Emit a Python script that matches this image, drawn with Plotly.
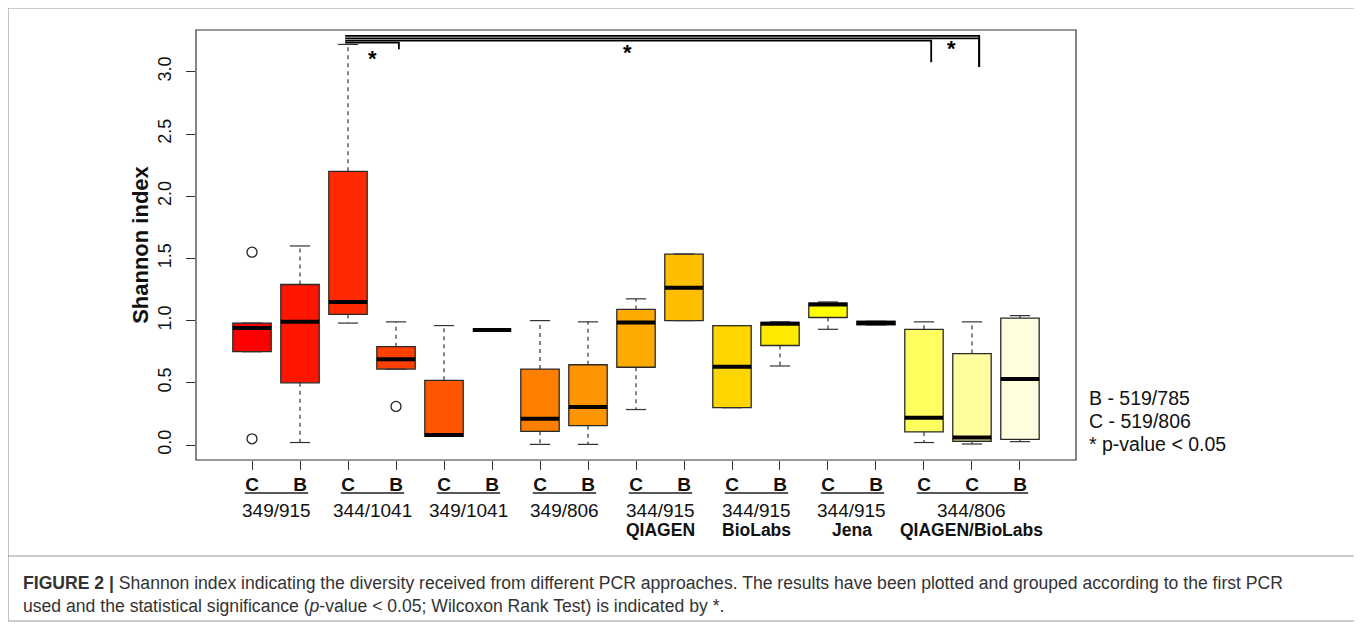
import plotly.graph_objects as go

# ---------------- data ----------------
box_labels = ["C", "B", "C", "B", "C", "B", "C", "B", "C", "B", "C", "B", "C", "B", "C", "C", "B"]
positions = list(range(1, 18))
lower_whisker = [0.75, 0.02, 0.98, 0.61, 0.07, 0.925, 0.005, 0.005, 0.285, 1.00, 0.30, 0.635, 0.93, 0.965, 0.02, 0.008, 0.027]
q1 = [0.75, 0.50, 1.05, 0.61, 0.07, 0.925, 0.11, 0.155, 0.625, 1.00, 0.30, 0.80, 1.025, 0.965, 0.105, 0.03, 0.045]
median = [0.94, 0.99, 1.15, 0.69, 0.08, 0.925, 0.21, 0.305, 0.985, 1.265, 0.63, 0.975, 1.13, 0.98, 0.22, 0.06, 0.53]
q3 = [0.98, 1.29, 2.20, 0.79, 0.52, 0.925, 0.61, 0.645, 1.09, 1.535, 0.96, 0.985, 1.14, 0.995, 0.93, 0.735, 1.02]
upper_whisker = [0.98, 1.60, 3.22, 0.99, 0.96, 0.925, 1.00, 0.99, 1.175, 1.535, 0.96, 0.99, 1.15, 0.995, 0.99, 0.99, 1.04]
outlier_x = [1, 1, 4]
outlier_y = [1.55, 0.05, 0.31]
box_colors = ["#FF0000", "#FF1500", "#FF2A00", "#FF4000", "#FF5500", "#FF6A00", "#FF8000",
              "#FF9500", "#FFAA00", "#FFBF00", "#FFD500", "#FFEA00", "#FFFF00", "#FFFF20",
              "#FFFF60", "#FFFF9F", "#FFFFDF"]

group_names = ["349/915", "344/1041", "349/1041", "349/806", "344/915", "344/915", "344/915", "344/806"]
group_sub = ["", "", "", "", "QIAGEN", "BioLabs", "Jena", "QIAGEN/BioLabs"]
group_first = [1, 3, 5, 7, 9, 11, 13, 15]
group_last = [2, 4, 6, 8, 10, 12, 14, 17]

# significance brackets (Wilcoxon, p < 0.05)
sig_x0 = [2.94, 2.94, 2.94, 2.94]
sig_x1 = [4.06, 15.15, 16.15, 16.15]
sig_y = [3.234, 3.250, 3.269, 3.288]
sig_drop = [3.181, 3.076, 3.039, 3.039]
star_x = [3.52, 8.83, 15.58]
star_y = [3.153, 3.20, 3.236]

legend_lines = ["B - 519/785", "C - 519/806", "* p-value &lt; 0.05"]
y_ticks = [0.0, 0.5, 1.0, 1.5, 2.0, 2.5, 3.0]

caption_1 = ("<b>FIGURE 2 |</b> Shannon index indicating the diversity received from different PCR "
             "approaches. The results have been plotted and grouped according to the first PCR")
caption_2 = ("used and the statistical significance (<i>p</i>-value &lt; 0.05; Wilcoxon Rank Test) "
             "is indicated by *.")

# ---------------- geometry ----------------
W, H = 1362, 625
OFF = 8  # default page body margin
PL, PT, PR, PB = 196, 30, 1076, 460  # plot frame in page pixels
FONT = "Liberation Sans, Arial, Helvetica, sans-serif"
BOX_W = 0.8
CAP_HW = 0.21


def px_x(px):
    return (px - PL) / (PR - PL)


def px_y(py):
    return (PB - py) / (PB - PT)


fig = go.Figure()

# boxes
for i, pos in enumerate(positions):
    fig.add_trace(go.Box(
        x=[pos], q1=[q1[i]], median=[median[i]], q3=[q3[i]],
        lowerfence=[q1[i]], upperfence=[q3[i]],
        width=BOX_W, fillcolor=box_colors[i],
        line=dict(color="#2a2a2a", width=1.3),
        boxpoints=False, showlegend=False, hoverinfo="skip",
    ))

# dashed whiskers and solid staples
wx, wy = [], []
cx, cy = [], []
for i, pos in enumerate(positions):
    if upper_whisker[i] > q3[i]:
        wx += [pos, pos, None]
        wy += [q3[i], upper_whisker[i], None]
    if lower_whisker[i] < q1[i]:
        wx += [pos, pos, None]
        wy += [q1[i], lower_whisker[i], None]
    cx += [pos - CAP_HW, pos + CAP_HW, None, pos - CAP_HW, pos + CAP_HW, None]
    cy += [upper_whisker[i], upper_whisker[i], None, lower_whisker[i], lower_whisker[i], None]

fig.add_trace(go.Scatter(x=wx, y=wy, mode="lines",
                         line=dict(color="#333333", width=1.2, dash="4px,4px"),
                         showlegend=False, hoverinfo="skip"))
fig.add_trace(go.Scatter(x=cx, y=cy, mode="lines",
                         line=dict(color="#333333", width=1.2),
                         showlegend=False, hoverinfo="skip"))

# medians
mx, my = [], []
for i, pos in enumerate(positions):
    mx += [pos - BOX_W / 2, pos + BOX_W / 2, None]
    my += [median[i], median[i], None]
fig.add_trace(go.Scatter(x=mx, y=my, mode="lines",
                         line=dict(color="#000000", width=4),
                         showlegend=False, hoverinfo="skip"))

# outliers
fig.add_trace(go.Scatter(x=outlier_x, y=outlier_y, mode="markers",
                         marker=dict(symbol="circle-open", size=10, color="#222222",
                                     line=dict(width=1.3, color="#222222")),
                         showlegend=False, hoverinfo="skip"))

# significance brackets
for j in range(len(sig_x0)):
    fig.add_trace(go.Scatter(x=[sig_x0[j], sig_x1[j], sig_x1[j]],
                             y=[sig_y[j], sig_y[j], sig_drop[j]],
                             mode="lines", line=dict(color="#000000", width=1.8),
                             showlegend=False, hoverinfo="skip"))

annotations = []
for k in range(len(star_x)):
    annotations.append(dict(x=star_x[k], y=star_y[k], xref="x", yref="y", text="<b>*</b>",
                            showarrow=False, font=dict(family=FONT, size=22, color="#000000"),
                            yshift=-6))

shapes = []
# plot frame
shapes.append(dict(type="rect", xref="paper", yref="paper", x0=0, x1=1, y0=0, y1=1,
                   line=dict(color="#333333", width=1.2), layer="above"))

# group separators and labels
for g in range(len(group_names)):
    a, b = group_first[g], group_last[g]
    shapes.append(dict(type="line", xref="x", yref="paper", x0=a - 0.15, x1=b + 0.17,
                       y0=px_y(493), y1=px_y(493), line=dict(color="#222222", width=1.5)))
    annotations.append(dict(x=(a + b) / 2, y=px_y(510), xref="x", yref="paper",
                            text=group_names[g], showarrow=False, yanchor="middle",
                            font=dict(family=FONT, size=19, color="#111111")))
    if group_sub[g]:
        annotations.append(dict(x=(a + b) / 2, y=px_y(530), xref="x", yref="paper",
                                text="<b>" + group_sub[g] + "</b>", showarrow=False, yanchor="middle",
                                font=dict(family=FONT, size=17.5, color="#111111")))

# legend text at right
for k, (txt, yy) in enumerate(zip(legend_lines, [398, 421, 444])):
    annotations.append(dict(x=px_x(1087), y=px_y(yy), xref="paper", yref="paper", text=txt,
                            showarrow=False, xanchor="left", yanchor="middle",
                            font=dict(family=FONT, size=19.5, color="#111111")))

# caption
annotations.append(dict(x=px_x(21), y=px_y(583), xref="paper", yref="paper", text=caption_1,
                        showarrow=False, xanchor="left", yanchor="middle",
                        font=dict(family=FONT, size=17.6, color="#333333")))
annotations.append(dict(x=px_x(21), y=px_y(606), xref="paper", yref="paper", text=caption_2,
                        showarrow=False, xanchor="left", yanchor="middle",
                        font=dict(family=FONT, size=17.6, color="#333333")))

# outer figure box and separator
shapes.append(dict(type="rect", xref="paper", yref="paper", x0=px_x(8), x1=px_x(1355),
                   y0=px_y(621), y1=px_y(8), line=dict(color="#9a9a9a", width=1.2)))
shapes.append(dict(type="line", xref="paper", yref="paper", x0=px_x(8), x1=px_x(1355),
                   y0=px_y(556), y1=px_y(556), line=dict(color="#9a9a9a", width=1.2)))

fig.update_layout(
    width=W - OFF, height=H - OFF, autosize=False,
    margin=dict(l=PL - OFF, r=W - PR, t=PT - OFF, b=H - PB, pad=0),
    paper_bgcolor="white", plot_bgcolor="white",
    showlegend=False,
    shapes=shapes, annotations=annotations,
    xaxis=dict(range=[-0.167, 18.167], tickmode="array", tickvals=positions,
               ticktext=["<b>" + t + "</b>" for t in box_labels],
               ticks="outside", ticklen=9, tickwidth=1.2, tickcolor="#333333",
               tickfont=dict(family=FONT, size=19, color="#111111"),
               ticklabelstandoff=-2,
               showgrid=False, zeroline=False, showline=False),
    yaxis=dict(range=[-0.1206, 3.336], tickmode="array", tickvals=y_ticks,
               ticktext=["%.1f" % v for v in y_ticks], tickangle=-90,
               ticks="outside", ticklen=9, tickwidth=1.2, tickcolor="#333333",
               tickfont=dict(family=FONT, size=18, color="#111111"),
               ticklabelstandoff=8,
               showgrid=False, zeroline=False, showline=False,
               title=dict(text="<b>Shannon index</b>", standoff=0,
                          font=dict(family=FONT, size=22, color="#111111"))),
)

fig.write_html("out.html")
